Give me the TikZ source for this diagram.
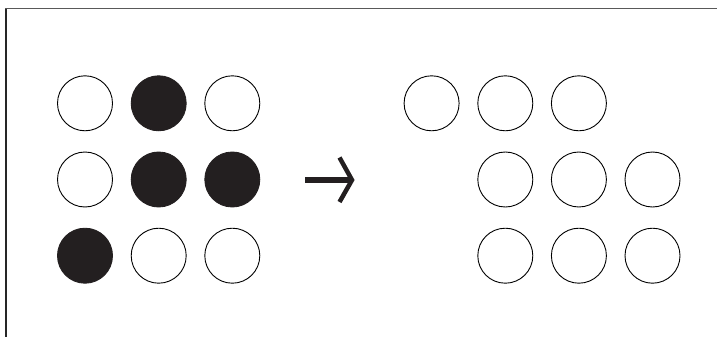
\documentclass[tikz,border=0pt]{standalone}
\begin{document}
\begin{tikzpicture}[x=1pt,y=-1pt,
  dot/.style={circle,draw=black,line width=0.9pt,minimum size=55pt,inner sep=0pt},
  full/.style={dot,fill=dotfill,draw=dotfill},
  frame/.style={line width=1.4pt}]
\definecolor{dotfill}{HTML}{231F20}
\useasboundingbox (0,0) rectangle (717,337);
\draw[frame,draw=black!65] (5.3,8.7) -- (717,8.7);
\draw[frame,draw=black!85] (6,8.7) -- (6,337);
% left grid
\node[dot]  (l11) at (85,103.3) {};
\node[full] (l12) at (158.7,103.3) {};
\node[dot]  (l13) at (232.3,103.3) {};
\node[dot]  (l21) at (85,179.5) {};
\node[full] (l22) at (158.7,179.5) {};
\node[full] (l23) at (232.3,179.5) {};
\node[full] (l31) at (85,255.7) {};
\node[dot]  (l32) at (158.7,255.7) {};
\node[dot]  (l33) at (232.3,255.7) {};
% right grid
\node[dot] (r11) at (431.6,103.3) {};
\node[dot] (r12) at (505.3,103.3) {};
\node[dot] (r13) at (578.9,103.3) {};
\node[dot] (r21) at (505.3,179.5) {};
\node[dot] (r22) at (578.9,179.5) {};
\node[dot] (r23) at (652.5,179.5) {};
\node[dot] (r31) at (505.3,255.7) {};
\node[dot] (r32) at (578.9,255.7) {};
\node[dot] (r33) at (652.5,255.7) {};
% arrow
\coordinate (as) at (305,180);
\coordinate (ae) at (350,180);
\coordinate (ht) at (339.5,157.5);
\coordinate (hp) at (352,180);
\coordinate (hb) at (339.5,202);
\draw[line width=6.5pt,draw=dotfill] (as) -- (ae);
\draw[line width=4.5pt,draw=dotfill,line join=miter] (ht) -- (hp) -- (hb);
\end{tikzpicture}
\end{document}
